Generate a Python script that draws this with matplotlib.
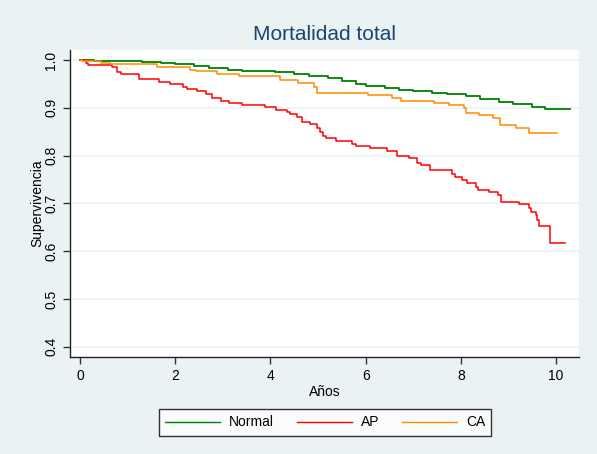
import matplotlib
matplotlib.use('Agg')
from matplotlib import pyplot as plt

# Kaplan-Meier estimates (time in years, survival)
normal_t = [0, 0.3, 0.6, 1.0, 1.3, 1.7, 2.0, 2.4, 2.7, 3.1, 3.4, 3.8, 4.1, 4.5,
            4.8, 5.2, 5.5, 5.8, 6.0, 6.4, 6.7, 7.0, 7.4, 7.7, 8.1, 8.4, 8.8,
            9.1, 9.5, 9.76, 10.3]
normal_s = [1.0, 0.999, 0.998, 0.997, 0.995, 0.994, 0.991, 0.987, 0.984, 0.980,
            0.978, 0.976, 0.974, 0.971, 0.967, 0.962, 0.956, 0.950, 0.946, 0.941,
            0.938, 0.936, 0.932, 0.929, 0.924, 0.919, 0.913, 0.907, 0.902, 0.897,
            0.897]

ap_t = [0, 0.13, 0.16, 0.67, 0.77, 0.86, 1.24, 1.66, 1.89, 2.16, 2.25, 2.45, 2.64,
        2.77, 2.96, 3.13, 3.41, 3.88, 4.11, 4.34, 4.40, 4.55, 4.67, 4.84, 4.98,
        5.04, 5.10, 5.17, 5.37, 5.71, 5.80, 6.09, 6.45, 6.65, 6.92, 7.07, 7.16,
        7.35, 7.81, 7.88, 8.02, 8.13, 8.32, 8.36, 8.60, 8.77, 8.84, 9.21, 9.43,
        9.48, 9.58, 9.60, 9.63, 9.87, 10.18]
ap_s = [1.0, 0.994, 0.990, 0.986, 0.974, 0.970, 0.960, 0.955, 0.950, 0.944, 0.939,
        0.936, 0.929, 0.921, 0.915, 0.911, 0.906, 0.901, 0.895, 0.892, 0.887,
        0.880, 0.871, 0.866, 0.857, 0.850, 0.841, 0.836, 0.830, 0.824, 0.820,
        0.815, 0.810, 0.799, 0.794, 0.785, 0.780, 0.769, 0.762, 0.755, 0.748,
        0.743, 0.734, 0.727, 0.724, 0.717, 0.703, 0.698, 0.690, 0.682, 0.675,
        0.665, 0.652, 0.617, 0.617]

ca_t = [0, 0.04, 0.44, 0.62, 1.61, 2.31, 2.43, 2.87, 3.34, 4.21, 4.58, 4.91, 4.98,
        6.05, 6.55, 6.75, 7.44, 7.76, 8.07, 8.11, 8.39, 8.67, 8.82, 9.16, 9.44,
        10.02]
ca_s = [1.0, 0.998, 0.994, 0.991, 0.986, 0.980, 0.976, 0.971, 0.966, 0.958, 0.952,
        0.944, 0.931, 0.927, 0.920, 0.915, 0.911, 0.905, 0.899, 0.890, 0.885,
        0.878, 0.865, 0.857, 0.848, 0.848]

bg = '#EAF2F3'
plt.rcParams['font.family'] = ['Liberation Sans', 'DejaVu Sans']

fig = plt.figure(figsize=(5.97, 4.54), dpi=100, facecolor=bg)
ax = fig.add_axes([70 / 597, 97.3 / 454, 509 / 597, 306.7 / 454])
ax.set_facecolor('white')

ax.plot(normal_t, normal_s, color='#008000', lw=1.3, drawstyle='steps-post', label='Normal')
ax.plot(ap_t, ap_s, color='#FF0000', lw=1.1, drawstyle='steps-post', label='AP')
ax.plot(ca_t, ca_s, color='#FF8C00', lw=1.1, drawstyle='steps-post', label='CA')

ax.set_xlim(-0.21, 10.48)
ax.set_ylim(0.379, 1.021)
ax.set_xticks([0, 2, 4, 6, 8, 10])
ax.set_yticks([0.4, 0.5, 0.6, 0.7, 0.8, 0.9, 1.0])
ax.set_yticklabels(['0.4', '0.5', '0.6', '0.7', '0.8', '0.9', '1.0'], rotation=90, va='center')
ax.tick_params(labelsize=10, length=5, width=1, color='#333333')
ax.grid(axis='y', color=bg, lw=1.2)
ax.set_axisbelow(True)
for s in ['top', 'right']:
    ax.spines[s].set_visible(False)
for s in ['left', 'bottom']:
    ax.spines[s].set_color('#222222')
    ax.spines[s].set_linewidth(1.0)

ax.set_xlabel('Años', fontsize=10, labelpad=2)
ax.set_ylabel('Supervivencia', fontsize=10, labelpad=0)
fig.text(324.5 / 597, 1 - 35 / 454, 'Mortalidad total', ha='center', va='center',
         fontsize=15, color='#1A476F')

leg = fig.legend(loc='center', bbox_to_anchor=(325 / 597, 31.5 / 454), ncol=3,
                 frameon=True, fancybox=False, edgecolor='black', fontsize=10,
                 handlelength=3.95, handletextpad=0.65, columnspacing=1.65,
                 borderpad=0.45, borderaxespad=0)
leg.get_frame().set_linewidth(1.0)
for line in leg.get_lines():
    line.set_linewidth(1.0)

fig.savefig('out.png', dpi=100, facecolor=bg)
